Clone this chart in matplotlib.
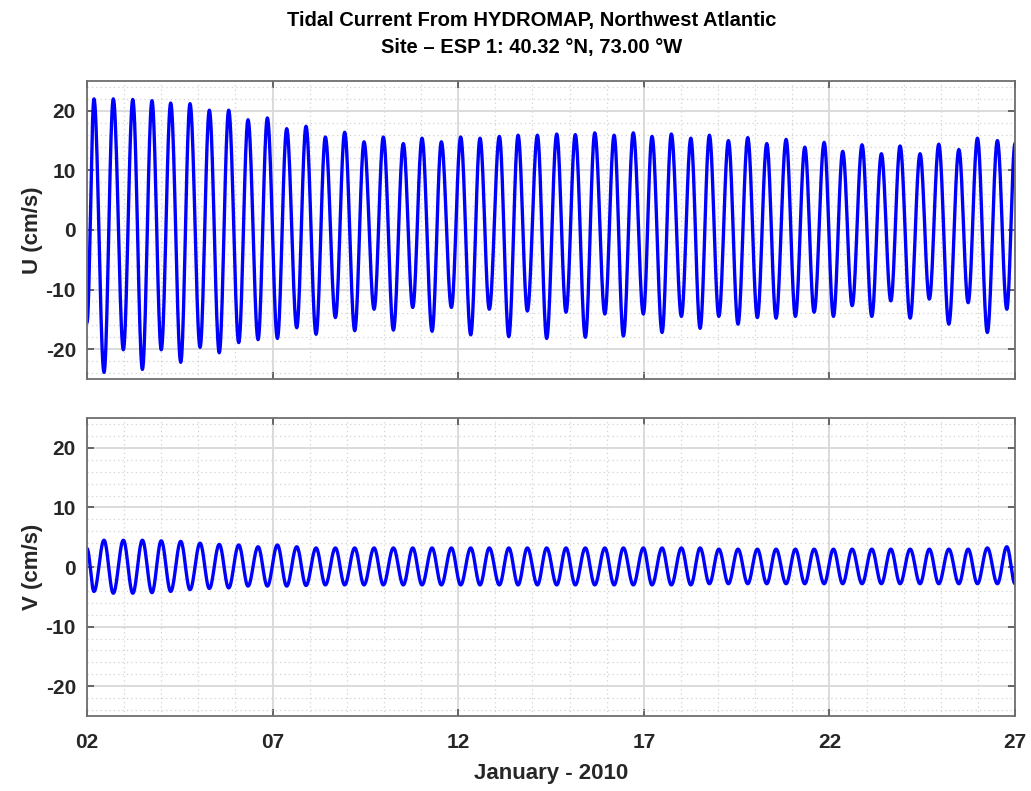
import numpy as np
import matplotlib
matplotlib.use("Agg")
import matplotlib.pyplot as plt
import matplotlib.dates as mdates
from matplotlib.ticker import MultipleLocator

plt.rcParams['font.family'] = ['Liberation Sans', 'DejaVu Sans']
plt.rcParams['font.weight'] = 'bold'
plt.rcParams['axes.unicode_minus'] = False

# hours after 2010-01-02 00:00
start_hour = 0.0
end_hour = 600.0

u_start, u_end = -15.5, 14.5
v_start, v_end = 3.1, -2.8

# U crests (flood) and V troughs occur together
u_peak_hours = [4.5, 17.0, 29.6, 42.0, 54.1, 66.6, 79.1, 91.6, 104.1, 116.6,
                129.1, 141.6, 154.1, 166.6, 179.1, 191.6, 204.5, 216.6, 229.1, 241.6,
                254.1, 266.6, 278.7, 291.2, 303.7, 315.7, 328.3, 340.8, 353.2, 365.3,
                377.8, 390.4, 402.4, 414.7, 427.2, 439.5, 452.0, 464.1, 476.6, 488.6,
                501.1, 513.6, 525.7, 538.6, 550.7, 563.7, 575.7, 588.6]
u_peak = [22.0, 22.0, 21.9, 21.7, 21.3, 21.2, 20.1, 20.1, 18.5, 18.8,
          17.0, 17.4, 15.6, 16.4, 14.8, 15.6, 14.5, 15.4, 14.8, 15.6,
          15.4, 15.7, 15.9, 15.9, 16.1, 16.0, 16.3, 15.9, 16.3, 15.7,
          16.1, 15.4, 15.9, 15.0, 15.5, 14.5, 15.2, 13.9, 14.7, 13.2,
          14.3, 12.8, 14.1, 12.8, 14.4, 13.5, 15.4, 15.0]
v_trough = [-4.1, -4.4, -4.4, -4.3, -4.1, -3.8, -3.6, -3.5, -3.2, -3.2,
            -3.2, -3.1, -3.0, -3.0, -3.0, -3.0, -3.0, -3.0, -3.0, -3.0,
            -3.0, -3.0, -3.0, -3.0, -3.0, -3.0, -3.0, -3.0, -3.0, -3.0,
            -3.0, -3.0, -2.8, -2.8, -2.8, -2.8, -2.8, -2.8, -2.8, -2.8,
            -2.8, -2.8, -2.8, -2.8, -2.8, -2.8, -2.8, -2.8]

# U troughs (ebb) and V crests occur together
u_trough_hours = [11.0, 23.5, 35.8, 48.0, 60.6, 73.1, 85.5, 98.1, 110.6, 123.1,
                  135.6, 148.1, 160.6, 173.1, 185.6, 198.1, 210.6, 223.1, 235.6, 248.1,
                  260.1, 272.7, 284.7, 297.2, 309.7, 322.2, 334.8, 346.8, 359.7, 371.8,
                  384.3, 396.4, 408.5, 420.9, 433.4, 445.5, 458.0, 470.1, 482.6, 494.7,
                  507.4, 519.7, 532.2, 544.6, 557.2, 569.7, 582.1, 594.7]
u_trough = [-23.9, -20.1, -23.4, -20.1, -22.2, -19.7, -20.6, -18.9, -18.4, -18.2,
            -16.4, -17.5, -14.7, -16.9, -13.3, -16.8, -13.0, -17.0, -13.0, -17.6,
            -13.3, -17.9, -13.6, -18.2, -13.8, -18.0, -14.1, -17.8, -14.1, -17.2,
            -14.5, -16.5, -14.5, -15.8, -14.7, -14.8, -14.5, -13.8, -14.5, -12.7,
            -14.5, -11.9, -14.8, -11.6, -15.8, -12.2, -17.2, -13.3]
v_peak = [4.5, 4.5, 4.5, 4.4, 4.3, 4.0, 3.8, 3.7, 3.4, 3.7,
          3.4, 3.2, 3.2, 3.2, 3.2, 3.2, 3.2, 3.2, 3.2, 3.2,
          3.2, 3.2, 3.2, 3.2, 3.2, 3.2, 3.2, 3.2, 3.2, 3.2,
          3.2, 3.2, 3.0, 3.0, 3.0, 3.0, 3.0, 3.0, 3.0, 3.0,
          3.0, 3.0, 3.0, 3.0, 3.0, 3.0, 3.2, 3.4]

t0 = mdates.date2num(np.datetime64('2010-01-02T00:00'))


def extrema(first, a_h, a, b_h, b, last):
    # interleave turning points in time order
    h = [start_hour]
    v = [first]
    for ah, av, bh, bv in zip(a_h, a, b_h, b):
        h += [ah, bh]
        v += [av, bv]
    h.append(end_hour)
    v.append(last)
    return np.array(h), np.array(v)


def smooth(h, v, n=20):
    # half-cosine between successive turning points
    xs, ys = [], []
    s = np.linspace(0, 1, n, endpoint=False)
    for i in range(len(h) - 1):
        xs.append(h[i] + (h[i + 1] - h[i]) * s)
        ys.append(v[i] + (v[i + 1] - v[i]) * (1 - np.cos(np.pi * s)) / 2)
    xs.append([h[-1]])
    ys.append([v[-1]])
    return t0 + np.concatenate(xs) / 24.0, np.concatenate(ys)


uh, uv = extrema(u_start, u_peak_hours, u_peak, u_trough_hours, u_trough, u_end)
vh, vv = extrema(v_start, u_peak_hours, v_trough, u_trough_hours, v_peak, v_end)

fig = plt.figure(figsize=(10.31, 7.91), dpi=100)
ax1 = fig.add_axes([0.0844, 0.5209, 0.9001, 0.3767])
ax2 = fig.add_axes([0.0844, 0.0948, 0.9001, 0.3767])

for ax, (h, v), lab in zip([ax1, ax2], [(uh, uv), (vh, vv)], ['U (cm/s)', 'V (cm/s)']):
    x, y = smooth(h, v)
    ax.plot(x, y, color='#0000ff', lw=2.4)
    ax.set_xlim(t0, t0 + 25)
    ax.set_ylim(-25, 25)
    ax.set_yticks([-20, -10, 0, 10, 20])
    ax.yaxis.set_minor_locator(MultipleLocator(2))
    ax.xaxis.set_major_locator(mdates.DayLocator(bymonthday=[2, 7, 12, 17, 22, 27]))
    ax.xaxis.set_minor_locator(mdates.DayLocator())
    ax.xaxis.set_major_formatter(mdates.DateFormatter('%d'))
    ax.grid(which='major', color='#dadada', lw=1.4, ls='-')
    ax.grid(which='minor', color='#d2d2d2', lw=0.9, ls=(0, (1, 2.5)))
    ax.set_axisbelow(True)
    ax.tick_params(which='major', direction='in', length=5, width=1.2,
                   top=True, right=True, labelsize=15, colors='#505050',
                   labelcolor='#262626', pad=8)
    ax.tick_params(which='minor', length=0)
    for sp in ax.spines.values():
        sp.set_color('#6e6e6e')
        sp.set_linewidth(1.3)
    ax.set_ylabel(lab, fontsize=16, fontweight='bold', color='#262626', labelpad=2)
    for t in ax.get_xticklabels() + ax.get_yticklabels():
        t.set_fontweight('bold')

ax1.tick_params(labelbottom=False)
ax2.tick_params(axis='x', pad=12)
ax2.set_xlabel('January - 2010', fontsize=16, fontweight='bold', color='#262626', labelpad=8)

fig.text(0.516, 0.974, 'Tidal Current From HYDROMAP, Northwest Atlantic',
         ha='center', va='center', fontsize=14.5, fontweight='bold')
fig.text(0.516, 0.94, 'Site \u2013 ESP 1: 40.32 \u00b0N, 73.00 \u00b0W',
         ha='center', va='center', fontsize=14.5, fontweight='bold')

fig.savefig('out.png', dpi=100)
